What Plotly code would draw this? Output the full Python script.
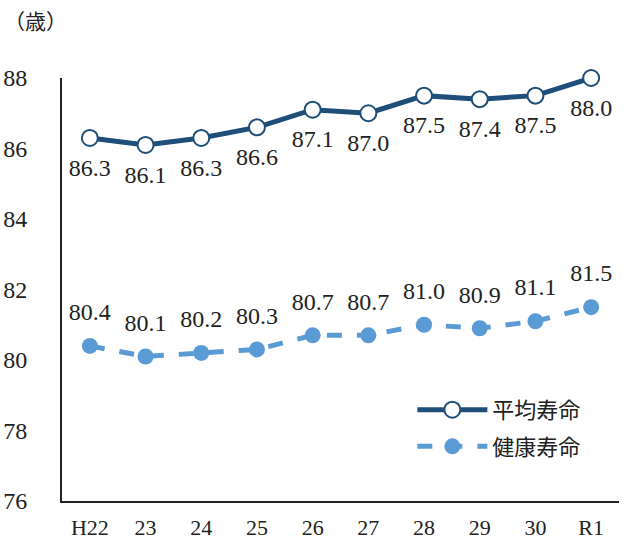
import plotly.graph_objects as go

categories = ["H22", "23", "24", "25", "26", "27", "28", "29", "30", "R1"]
avg_life = [86.3, 86.1, 86.3, 86.6, 87.1, 87.0, 87.5, 87.4, 87.5, 88.0]
healthy_life = [80.4, 80.1, 80.2, 80.3, 80.7, 80.7, 81.0, 80.9, 81.1, 81.5]
y_ticks = [76, 78, 80, 82, 84, 86, 88]

FONT = "'Liberation Serif', 'DejaVu Serif', 'Noto Sans CJK JP', serif"
DARK = "#1F4E79"
LIGHT = "#5B9BD5"

fig = go.Figure()
fig.add_trace(go.Scatter(
    x=categories, y=avg_life, name="平均寿命", legendgroup="a",
    mode="lines+markers",
    line=dict(color=DARK, width=5),
    marker=dict(size=16, color="white", line=dict(color=DARK, width=2)),
    cliponaxis=False,
))
fig.add_trace(go.Scatter(
    x=categories, y=healthy_life, name="健康寿命", legendgroup="b",
    mode="lines+markers",
    line=dict(color=LIGHT, width=5, dash="dash"),
    marker=dict(size=16, color=LIGHT),
    cliponaxis=False,
))
# data labels (invisible larger markers give the label offset)
fig.add_trace(go.Scatter(
    x=categories, y=avg_life, mode="markers+text", showlegend=False,
    marker=dict(size=30, color="rgba(0,0,0,0)"),
    text=[f"{v:.1f}" for v in avg_life], textposition="bottom center",
    textfont=dict(size=24, color="#222222", family=FONT),
    cliponaxis=False, hoverinfo="skip",
))
fig.add_trace(go.Scatter(
    x=categories, y=healthy_life, mode="markers+text", showlegend=False,
    marker=dict(size=30, color="rgba(0,0,0,0)"),
    text=[f"{v:.1f}" for v in healthy_life], textposition="top center",
    textfont=dict(size=24, color="#222222", family=FONT),
    cliponaxis=False, hoverinfo="skip",
))

fig.update_layout(
    width=626, height=542,
    margin=dict(l=62, r=7, t=78, b=41, autoexpand=False),
    paper_bgcolor="white", plot_bgcolor="white",
    font=dict(family=FONT, size=24, color="#222222"),
    showlegend=True,
    legend=dict(x=0.629, y=0.265, xanchor="left", yanchor="top",
                font=dict(size=22, family=FONT), itemwidth=70,
                bgcolor="rgba(0,0,0,0)", tracegroupgap=5),
    annotations=[dict(text="（歳）", x=-0.048, y=1.132, xref="paper", yref="paper",
                      xanchor="center", yanchor="middle", showarrow=False,
                      font=dict(size=21, family=FONT))],
)
fig.update_xaxes(
    type="category", range=[-0.5, 9.5], showgrid=False,
    showline=True, linecolor="#222222", linewidth=2,
    ticks="", ticklabelstandoff=6, tickfont=dict(size=22),
)
fig.update_yaxes(
    range=[76, 88], tickvals=y_ticks, showgrid=False, zeroline=False,
    showline=True, linecolor="#222222", linewidth=2,
    ticks="", ticklabelstandoff=28,
)

fig.write_html("out.html", config={"displayModeBar": False},
               post_script="document.body.style.margin='0px';")
